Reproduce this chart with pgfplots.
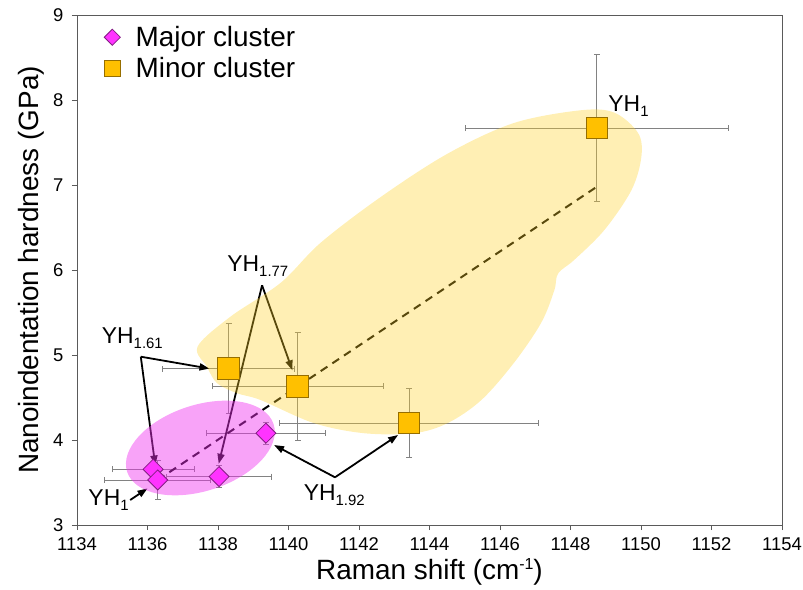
\documentclass[border=0pt]{standalone}
\usepackage{fontspec}
\setmainfont{Liberation Sans}
\usepackage{pgfplots}
\pgfplotsset{compat=1.18}
\usepackage{pgfplotstable}
\usetikzlibrary{arrows.meta}

\definecolor{diamfill}{RGB}{255,51,255}
\definecolor{diamdraw}{RGB}{130,30,130}
\definecolor{sqfill}{RGB}{255,192,0}
\definecolor{sqdraw}{RGB}{150,110,0}
\definecolor{pinkblob}{RGB}{240,50,240}
\definecolor{yellowblob}{RGB}{255,210,40}
\definecolor{errgray}{RGB}{130,130,130}
\definecolor{axgray}{RGB}{90,90,90}

\newcommand\sub[1]{\raisebox{-5bp}{\fontsize{15}{15}\selectfont #1}}

\pgfplotstableread{
x y ex ey
1136.16 3.655 1.16 0.08
1136.29 3.53 1.50 0.23
1138.03 3.57 1.49 0.13
1139.36 4.08 1.70 0.13
}\major
\pgfplotstableread{
x y ex ey
1138.30 4.84 1.88 0.53
1140.26 4.63 2.43 0.63
1143.42 4.20 3.68 0.41
1148.75 7.67 3.74 0.86
}\minor

\begin{document}
\begin{tikzpicture}
\useasboundingbox (-77bp,-65bp) rectangle (726bp,525bp);
\begin{axis}[
  scale only axis, width=705bp, height=510bp,
  xmin=1134, xmax=1154, ymin=3, ymax=9,
  xtick={1134,1136,...,1154}, ytick={3,4,...,9},
  tick align=outside, xtick pos=bottom, ytick pos=left,
  major tick length=5bp,
  axis line style={axgray, line width=0.8bp},
  tick style={axgray, line width=0.8bp},
  tick label style={font=\fontsize{18.5}{22}\selectfont},
  xticklabel style={yshift=-4bp},
  yticklabel style={xshift=-5bp},
  /pgf/number format/assume math mode=true,
  /pgf/number format/1000 sep={},
  xlabel={Raman shift (cm\raisebox{10bp}{\fontsize{16}{16}\selectfont -1})},
  ylabel={Nanoindentation hardness (GPa)},
  label style={font=\fontsize{28}{32}\selectfont},
  xlabel style={at={(axis description cs:0.5,-0.1078)}, anchor=base},
  ylabel style={at={(axis description cs:-0.054,0.5)}, anchor=base},
  legend style={at={(axis description cs:0.038,0.982)}, anchor=north west, draw=none, fill=none,
    font=\fontsize{28}{32}\selectfont, row sep=5.5bp, column sep=13bp, inner sep=0pt},
  legend cell align=left,
  clip=false,
]
% error bars
\addplot[draw=none, forget plot,
  error bars/.cd, x dir=both, x explicit, y dir=both, y explicit,
  error bar style={draw=errgray, line width=0.9bp, solid},
  error mark options={rotate=90, mark size=3bp, draw=errgray, line width=0.9bp}]
  table[x=x, y=y, x error=ex, y error=ey] {\major};
\addplot[draw=none, forget plot,
  error bars/.cd, x dir=both, x explicit, y dir=both, y explicit,
  error bar style={draw=errgray, line width=0.9bp, solid},
  error mark options={rotate=90, mark size=3bp, draw=errgray, line width=0.9bp}]
  table[x=x, y=y, x error=ex, y error=ey] {\minor};
% trend line
\addplot[black, line width=2bp, dash pattern=on 8bp off 6bp, forget plot]
  coordinates {(1136.29,3.53) (1148.75,6.98)};
% arrows
\tikzset{myarr/.style={black, line width=1.8bp, -{Triangle[length=10bp, width=7bp]}}}
\draw[myarr] (axis cs:1135.81,4.98) -- (axis cs:1137.76,4.84);
\draw[myarr] (axis cs:1135.81,4.98) -- (axis cs:1136.22,3.70);
\draw[myarr] (axis cs:1139.25,5.82) -- (axis cs:1140.11,4.82);
\draw[myarr] (axis cs:1139.25,5.82) -- (axis cs:1138.02,3.72);
\draw[myarr] (axis cs:1141.32,3.561) -- (axis cs:1143.11,4.059);
\draw[myarr] (axis cs:1141.32,3.561) -- (axis cs:1139.59,3.941);
\draw[myarr] (axis cs:1135.51,3.294) -- (axis cs:1136.0,3.43);
% blobs
\fill[yellowblob, opacity=0.35] plot[smooth cycle, tension=0.55] coordinates {
  (axis cs:1137.42,5.098) (axis cs:1138.35,5.45) (axis cs:1139.78,5.85) (axis cs:1140.91,6.32)
  (axis cs:1142.62,6.86) (axis cs:1144.52,7.37) (axis cs:1146.40,7.73) (axis cs:1148.31,7.88)
  (axis cs:1149.25,7.85) (axis cs:1149.92,7.61) (axis cs:1150.01,7.33) (axis cs:1149.73,6.94)
  (axis cs:1148.96,6.47) (axis cs:1148.11,6.12) (axis cs:1147.65,5.96) (axis cs:1147.54,5.76)
  (axis cs:1147.17,5.38) (axis cs:1146.40,4.91) (axis cs:1145.47,4.47) (axis cs:1144.52,4.20)
  (axis cs:1143.56,4.08) (axis cs:1142.14,4.08) (axis cs:1140.71,4.20) (axis cs:1139.21,4.47)
  (axis cs:1138.54,4.55) (axis cs:1137.97,4.67) (axis cs:1137.69,4.86)};
\fill[pinkblob, opacity=0.45, rotate around={18:(axis cs:1137.50,3.906)}]
  (axis cs:1137.50,3.906) ellipse [x radius=77bp, y radius=43bp];
% markers
\addplot[only marks, mark=square*, mark size=7.1bp,
  mark options={rotate=45, fill=diamfill, draw=diamdraw, line width=0.8bp},
  legend image post style={mark size=5.7bp}]
  table[x=x, y=y] {\major};
\addlegendentry{Major cluster}
\addplot[only marks, mark=square*, mark size=10.8bp,
  mark options={fill=sqfill, draw=sqdraw, line width=0.8bp},
  legend image post style={mark size=8.3bp}]
  table[x=x, y=y] {\minor};
\addlegendentry{Minor cluster}
% labels
\tikzset{lab/.style={anchor=base west, inner sep=0pt, font=\fontsize{23}{27}\selectfont}}
\node[lab] at (axis cs:1134.70,5.141) {YH\sub{1.61}};
\node[lab] at (axis cs:1138.26,5.98) {YH\sub{1.77}};
\node[lab] at (axis cs:1140.43,3.294) {YH\sub{1.92}};
\node[lab] at (axis cs:1134.32,3.235) {YH\sub{1}};
\node[lab] at (axis cs:1149.07,7.862) {YH\sub{1}};
\end{axis}
\end{tikzpicture}
\end{document}
